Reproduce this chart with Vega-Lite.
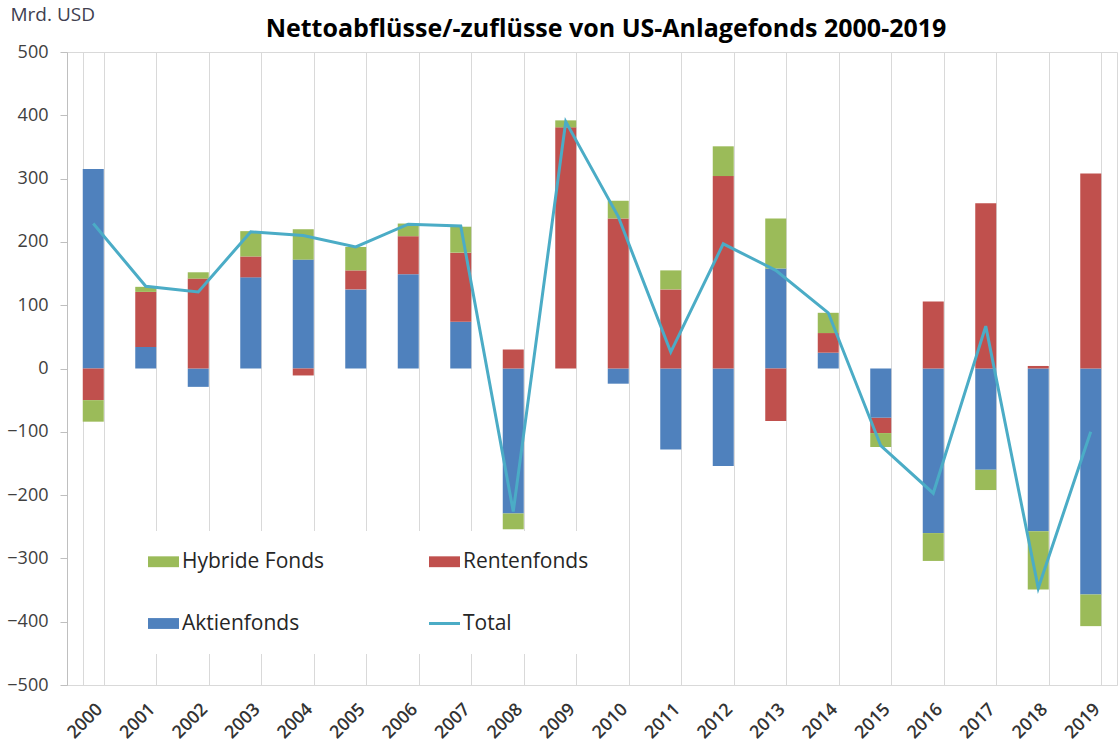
{
  "$schema": "https://vega.github.io/schema/vega-lite/v6.json",
  "autosize": {"type": "none"},
  "width": 1050,
  "height": 633,
  "padding": {"left": 67, "top": 52, "right": 1, "bottom": 62},
  "background": "white",
  "config": {
    "font": "Open Sans",
    "view": {"stroke": "#d9d9d9", "strokeWidth": 1}
  },
  "title": {
    "text": "Nettoabflüsse/-zuflüsse von US-Anlagefonds 2000-2019",
    "font": "Open Sans",
    "fontSize": 25,
    "fontWeight": "bold",
    "color": "#000000",
    "anchor": "middle",
    "frame": "group",
    "dx": 14,
    "offset": -37
  },
  "datasets": {
    "flows": [
      {"Jahr": "2000", "Fonds": "Aktienfonds", "Wert": 315}, {"Jahr": "2000", "Fonds": "Rentenfonds", "Wert": -50}, {"Jahr": "2000", "Fonds": "Hybride Fonds", "Wert": -34},
      {"Jahr": "2001", "Fonds": "Aktienfonds", "Wert": 34}, {"Jahr": "2001", "Fonds": "Rentenfonds", "Wert": 87}, {"Jahr": "2001", "Fonds": "Hybride Fonds", "Wert": 8},
      {"Jahr": "2002", "Fonds": "Aktienfonds", "Wert": -29}, {"Jahr": "2002", "Fonds": "Rentenfonds", "Wert": 142}, {"Jahr": "2002", "Fonds": "Hybride Fonds", "Wert": 10},
      {"Jahr": "2003", "Fonds": "Aktienfonds", "Wert": 144}, {"Jahr": "2003", "Fonds": "Rentenfonds", "Wert": 33}, {"Jahr": "2003", "Fonds": "Hybride Fonds", "Wert": 40},
      {"Jahr": "2004", "Fonds": "Aktienfonds", "Wert": 172}, {"Jahr": "2004", "Fonds": "Rentenfonds", "Wert": -11}, {"Jahr": "2004", "Fonds": "Hybride Fonds", "Wert": 48},
      {"Jahr": "2005", "Fonds": "Aktienfonds", "Wert": 125}, {"Jahr": "2005", "Fonds": "Rentenfonds", "Wert": 30}, {"Jahr": "2005", "Fonds": "Hybride Fonds", "Wert": 37},
      {"Jahr": "2006", "Fonds": "Aktienfonds", "Wert": 149}, {"Jahr": "2006", "Fonds": "Rentenfonds", "Wert": 60}, {"Jahr": "2006", "Fonds": "Hybride Fonds", "Wert": 20},
      {"Jahr": "2007", "Fonds": "Aktienfonds", "Wert": 74}, {"Jahr": "2007", "Fonds": "Rentenfonds", "Wert": 109}, {"Jahr": "2007", "Fonds": "Hybride Fonds", "Wert": 41},
      {"Jahr": "2008", "Fonds": "Aktienfonds", "Wert": -229}, {"Jahr": "2008", "Fonds": "Rentenfonds", "Wert": 30}, {"Jahr": "2008", "Fonds": "Hybride Fonds", "Wert": -25},
      {"Jahr": "2009", "Fonds": "Aktienfonds", "Wert": 0}, {"Jahr": "2009", "Fonds": "Rentenfonds", "Wert": 381}, {"Jahr": "2009", "Fonds": "Hybride Fonds", "Wert": 11},
      {"Jahr": "2010", "Fonds": "Aktienfonds", "Wert": -24}, {"Jahr": "2010", "Fonds": "Rentenfonds", "Wert": 237}, {"Jahr": "2010", "Fonds": "Hybride Fonds", "Wert": 28},
      {"Jahr": "2011", "Fonds": "Aktienfonds", "Wert": -128}, {"Jahr": "2011", "Fonds": "Rentenfonds", "Wert": 125}, {"Jahr": "2011", "Fonds": "Hybride Fonds", "Wert": 30},
      {"Jahr": "2012", "Fonds": "Aktienfonds", "Wert": -154}, {"Jahr": "2012", "Fonds": "Rentenfonds", "Wert": 304}, {"Jahr": "2012", "Fonds": "Hybride Fonds", "Wert": 47},
      {"Jahr": "2013", "Fonds": "Aktienfonds", "Wert": 158}, {"Jahr": "2013", "Fonds": "Rentenfonds", "Wert": -83}, {"Jahr": "2013", "Fonds": "Hybride Fonds", "Wert": 79},
      {"Jahr": "2014", "Fonds": "Aktienfonds", "Wert": 25}, {"Jahr": "2014", "Fonds": "Rentenfonds", "Wert": 31}, {"Jahr": "2014", "Fonds": "Hybride Fonds", "Wert": 32},
      {"Jahr": "2015", "Fonds": "Aktienfonds", "Wert": -78}, {"Jahr": "2015", "Fonds": "Rentenfonds", "Wert": -24}, {"Jahr": "2015", "Fonds": "Hybride Fonds", "Wert": -22},
      {"Jahr": "2016", "Fonds": "Aktienfonds", "Wert": -260}, {"Jahr": "2016", "Fonds": "Rentenfonds", "Wert": 106}, {"Jahr": "2016", "Fonds": "Hybride Fonds", "Wert": -44},
      {"Jahr": "2017", "Fonds": "Aktienfonds", "Wert": -160}, {"Jahr": "2017", "Fonds": "Rentenfonds", "Wert": 261}, {"Jahr": "2017", "Fonds": "Hybride Fonds", "Wert": -32},
      {"Jahr": "2018", "Fonds": "Aktienfonds", "Wert": -257}, {"Jahr": "2018", "Fonds": "Rentenfonds", "Wert": 4}, {"Jahr": "2018", "Fonds": "Hybride Fonds", "Wert": -92},
      {"Jahr": "2019", "Fonds": "Aktienfonds", "Wert": -357}, {"Jahr": "2019", "Fonds": "Rentenfonds", "Wert": 308}, {"Jahr": "2019", "Fonds": "Hybride Fonds", "Wert": -50}
    ],
    "total": [
      {"Jahr": "2000", "Total": 229}, {"Jahr": "2001", "Total": 130}, {"Jahr": "2002", "Total": 121}, {"Jahr": "2003", "Total": 216},
      {"Jahr": "2004", "Total": 210}, {"Jahr": "2005", "Total": 192}, {"Jahr": "2006", "Total": 228}, {"Jahr": "2007", "Total": 225},
      {"Jahr": "2008", "Total": -226}, {"Jahr": "2009", "Total": 390}, {"Jahr": "2010", "Total": 240}, {"Jahr": "2011", "Total": 26},
      {"Jahr": "2012", "Total": 197}, {"Jahr": "2013", "Total": 155}, {"Jahr": "2014", "Total": 88}, {"Jahr": "2015", "Total": -122},
      {"Jahr": "2016", "Total": -197}, {"Jahr": "2017", "Total": 67}, {"Jahr": "2018", "Total": -347}, {"Jahr": "2019", "Total": -100}
    ]
  },
  "encoding": {
    "x": {
      "field": "Jahr",
      "type": "nominal",
      "scale": {"paddingInner": 0.6, "paddingOuter": 0.3},
      "axis": {
        "title": null,
        "labelAngle": -45,
        "labelAlign": "right",
        "labelBaseline": "top",
        "labelFont": "Open Sans",
        "labelFontSize": 18,
        "labelFontWeight": 600,
        "labelColor": "#333333",
        "labelPadding": 15,
        "ticks": false,
        "tickBand": "extent",
        "grid": true,
        "gridColor": "#d9d9d9",
        "gridWidth": 1,
        "domainColor": "#d9d9d9",
        "domainWidth": 1
      }
    }
  },
  "layer": [
    {
      "data": {"name": "flows"},
      "transform": [
        {"calculate": "indexof(['Aktienfonds', 'Rentenfonds', 'Hybride Fonds'], datum.Fonds)", "as": "Stapelfolge"}
      ],
      "mark": {"type": "bar"},
      "encoding": {
        "y": {
          "field": "Wert",
          "type": "quantitative",
          "stack": "zero",
          "scale": {"domain": [-500, 500], "nice": false, "zero": false},
          "axis": {
            "title": "Mrd. USD",
            "titleAngle": 0,
            "titleAlign": "left",
            "titleBaseline": "middle",
            "titleX": -57,
            "titleY": -38,
            "titleFont": "Open Sans",
            "titleFontSize": 19,
            "titleFontWeight": "normal",
            "titleColor": "#404050",
            "values": [-500, -400, -300, -200, -100, 0, 100, 200, 300, 400, 500],
            "grid": false,
            "domainColor": "#bfbfbf",
            "tickColor": "#bfbfbf",
            "tickSize": 7,
            "labelPadding": 12,
            "labelFont": "Open Sans",
            "labelFontSize": 18,
            "labelColor": "#404040"
          }
        },
        "order": {"field": "Stapelfolge", "type": "quantitative", "sort": "ascending"},
        "color": {
          "field": "Fonds",
          "type": "nominal",
          "scale": {
            "domain": ["Hybride Fonds", "Aktienfonds", "Rentenfonds", "Total"],
            "range": ["#9BBB59", "#4F81BD", "#C0504D", "#4BACC6"]
          },
          "legend": {
            "title": null,
            "orient": "none",
            "legendX": 66,
            "legendY": 479,
            "columns": 2,
            "direction": "vertical",
            "columnPadding": 98,
            "rowPadding": 40,
            "padding": 20,
            "fillColor": "white",
            "labelFont": "Open Sans",
            "labelFontSize": 21,
            "labelColor": "#262626",
            "labelOffset": 8,
            "symbolSize": 961,
            "symbolStrokeWidth": 0,
            "encode": {
              "symbols": {
                "update": {
                  "shape": {"signal": "datum.value === 'Total' ? 'stroke' : 'M-1,-0.35H1V0.35H-1Z'"},
                  "fill": {"signal": "datum.value === 'Total' ? 'transparent' : scale('color', datum.value)"},
                  "stroke": {"signal": "scale('color', datum.value)"},
                  "strokeWidth": {"signal": "datum.value === 'Total' ? 3 : 0"},
                  "opacity": {"value": 1},
                  "fillOpacity": {"value": 1}
                }
              }
            }
          }
        }
      }
    },
    {
      "mark": {"type": "rule", "color": "#bfbfbf", "strokeWidth": 1},
      "encoding": {"y": {"datum": 0}}
    },
    {
      "data": {"name": "total"},
      "mark": {"type": "line", "strokeWidth": 3},
      "encoding": {
        "y": {"field": "Total", "type": "quantitative"},
        "color": {"datum": "Total"}
      }
    }
  ]
}
